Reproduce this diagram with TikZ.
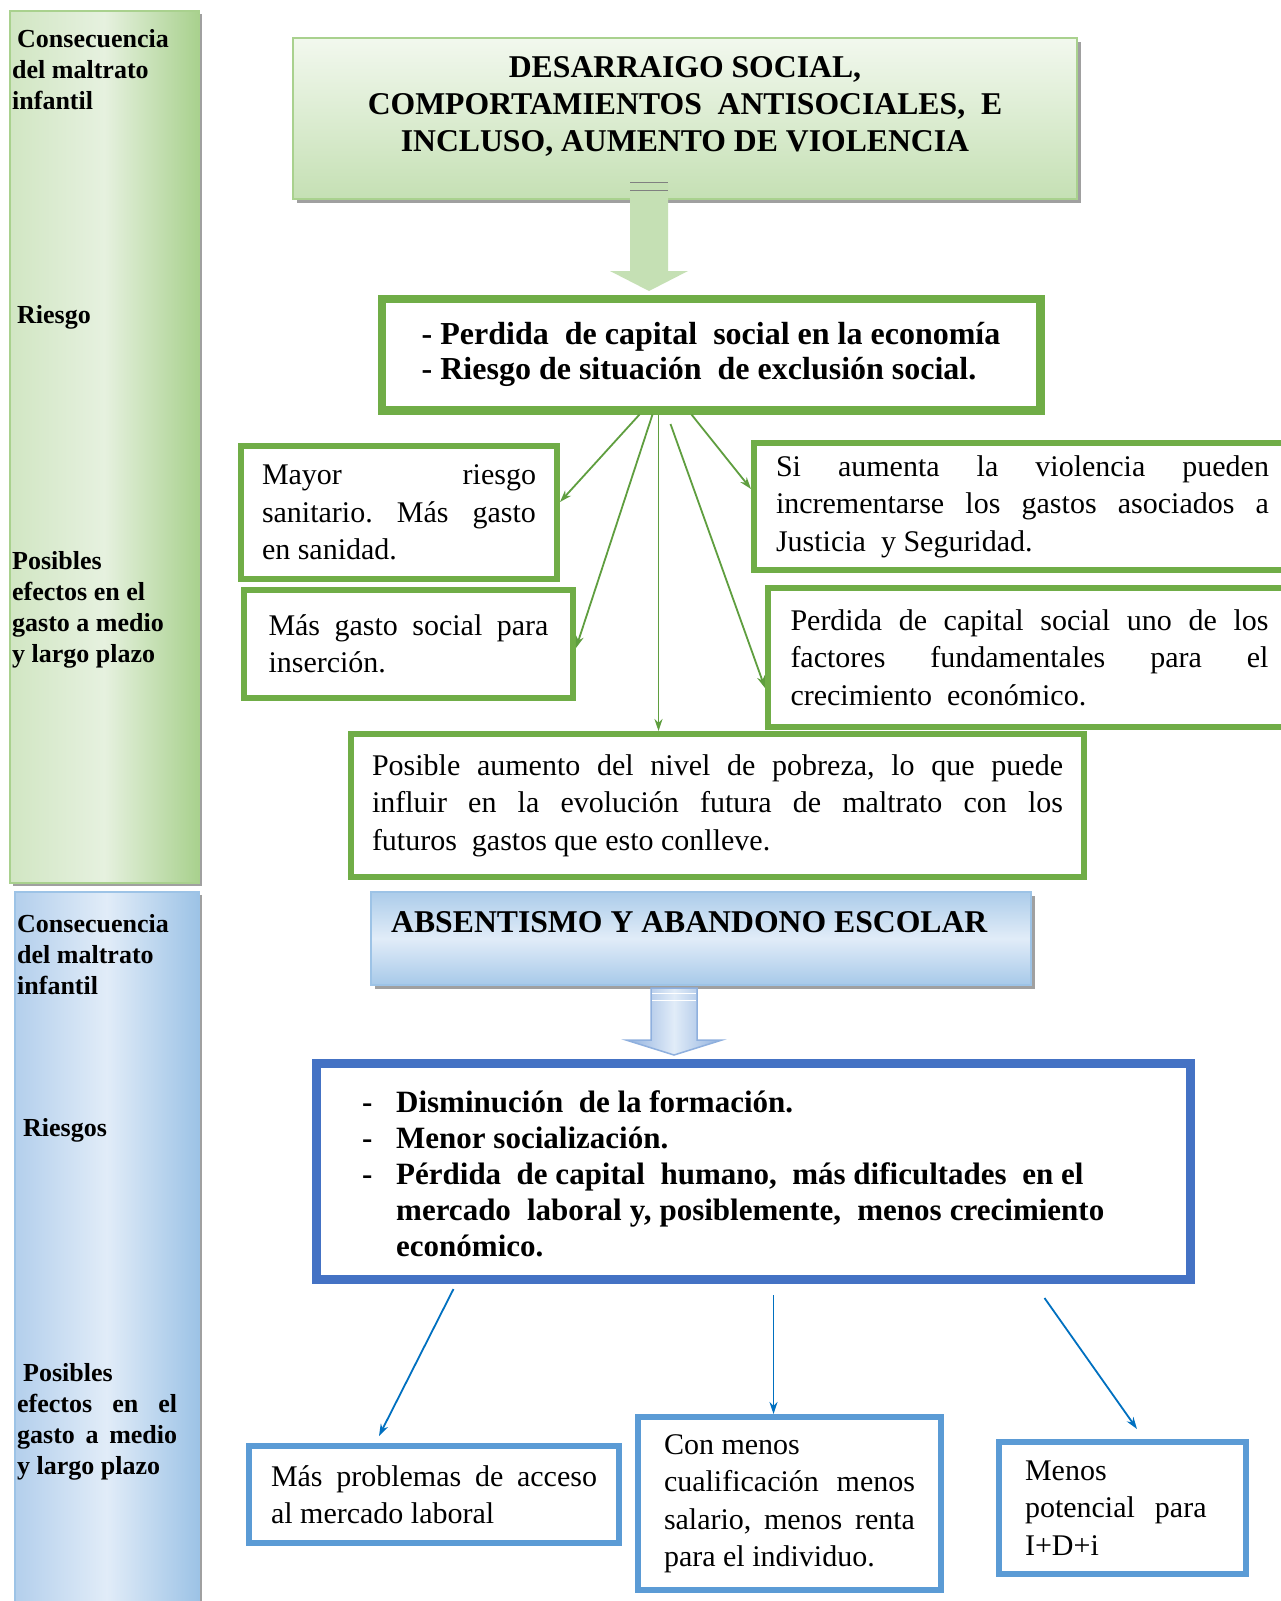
\documentclass[tikz,border=0pt]{standalone}
\usepackage{fontspec}
\setmainfont{Liberation Serif}
\usepackage{tikz}
\usetikzlibrary{arrows.meta,positioning,calc,shadows}
\definecolor{grnline}{HTML}{70AD47}
\definecolor{grnarrow}{HTML}{5F9E3F}
\definecolor{grnpale}{HTML}{E6F1DF}
\definecolor{grnside}{HTML}{D1E6C3}
\definecolor{grntop}{HTML}{F2F8EE}
\definecolor{grnsoft}{HTML}{C5E0B4}
\definecolor{grnedge}{HTML}{A9D18E}
\definecolor{bluline}{HTML}{4472C4}
\definecolor{bluframe}{HTML}{5B9BD5}
\definecolor{bluarrow}{HTML}{0070C0}
\definecolor{blupale}{HTML}{E1ECF8}
\definecolor{bluside}{HTML}{B3CFEC}
\definecolor{bluedge}{HTML}{9DC3E6}
\definecolor{blushaft}{HTML}{8FB0DE}
\definecolor{shadowgrey}{HTML}{A0A0A0}
\frenchspacing
\tolerance=10000
\hyphenpenalty=10000
\newcommand{\sidefont}{\fontsize{26}{31}\selectfont\bfseries}
\newcommand{\bodyfont}{\fontsize{30}{37.5}\selectfont}
\newcommand{\headfont}{\fontsize{31.7}{37}\selectfont\bfseries}
\newcommand{\riskfont}{\fontsize{32}{35}\selectfont\bfseries}
\newcommand{\listfont}{\fontsize{31}{36}\selectfont\bfseries\parindent=0pt}
\newcommand{\dashitem}[1]{\noindent\makebox[34pt][l]{-}\parbox[t]{708pt}{#1}\par}
\tikzset{
  % ---- side bars ------------------------------------------------------
  sidebar/.style={draw, line width=1.5pt, anchor=north west, inner sep=0pt,
    drop shadow={shadow xshift=3pt, shadow yshift=-3pt, fill=shadowgrey, opacity=1}},
  gsidebar/.style={sidebar, draw=grnedge, left color=grnside,
    right color=grnedge, middle color=grnpale},
  bsidebar/.style={sidebar, draw=bluedge, left color=bluside,
    right color=bluedge, middle color=blupale},
  sidelabel/.style={font=\sidefont, inner sep=0pt, anchor=north west, align=left},
  % ---- headline boxes -------------------------------------------------
  headbox/.style={draw, line width=2pt, anchor=north west, inner sep=0pt,
    drop shadow={shadow xshift=4pt, shadow yshift=-4pt, fill=shadowgrey, opacity=1}},
  gheadbox/.style={headbox, draw=grnedge, top color=grntop, bottom color=grnsoft},
  bheadbox/.style={headbox, draw=bluedge, top color=bluedge!85,
    bottom color=bluedge!90, middle color=blupale},
  headtext/.style={font=\headfont, inner sep=0pt, align=center},
  % ---- risk boxes (double frame) --------------------------------------
  dframe/.style={line width=7pt, anchor=north west, inner sep=0pt, fill=white},
  innerframe/.style={line width=2pt},
  listtext/.style={font=\listfont, inner sep=0pt, anchor=west,
    text width=742pt, align=justify},
  % ---- effect boxes ---------------------------------------------------
  effbox/.style={draw=grnline, line width=6pt, fill=white, anchor=north west,
    inner sep=0pt, align=justify, font=\bodyfont},
  beffbox/.style={effbox, draw=bluframe},
  % ---- connections ----------------------------------------------------
  garr/.style={-{Stealth[length=12pt,width=8pt]}, draw=grnarrow, line width=1.8pt},
  barr/.style={garr, draw=bluarrow},
  gblock/.style={fill=grnsoft},
  bblock/.style={draw=blushaft, line width=1.5pt, left color=blushaft,
    right color=blushaft, middle color=blupale},
  blockmark/.style={draw=#1, line width=1pt},
}
\begin{document}
\begin{tikzpicture}[x=1pt, y=-1pt]
\useasboundingbox (0,0) rectangle (1280,1601);
\fill[white] (0,0) rectangle (1280,1601);

% ---------------- side bars ------------------------------------------
\node[gsidebar, minimum width=189pt, minimum height=872pt] (gbar) at (9,10) {};
\node[bsidebar, minimum width=184pt, minimum height=720pt] (bbar) at (14,891) {};

\node[sidelabel] (gcons) at (12,29) {\hspace*{5pt}Consecuencia\\del maltrato\\infantil};
\node[sidelabel] (griesgo) at (17,305) {Riesgo};
\node[sidelabel] (gefect) at (12,551)
  {Posibles\\efectos en el\\gasto a medio\\y largo plazo};

\node[sidelabel] (bcons) at (17,914) {Consecuencia\\del maltrato\\infantil};
\node[sidelabel] (briesgo) at (23,1118) {Riesgos};
\node[sidelabel, text width=160pt, align=justify] (befect) at (17,1363)
  {\hspace*{6pt}Posibles\\efectos en el\linebreak gasto a medio\linebreak y largo plazo};

% ---------------- green part -----------------------------------------
\node[gheadbox, minimum width=784pt, minimum height=161pt] (desbox) at (292,37) {};
\node[headtext] (destext) at ([yshift=12pt]desbox.center)
  {DESARRAIGO SOCIAL,\\COMPORTAMIENTOS\ \ ANTISOCIALES,\ \ E\\INCLUSO, AUMENTO DE VIOLENCIA};

\node[dframe, draw=grnline, minimum width=660pt, minimum height=113pt,
      font=\riskfont, align=left] (riskbox) at (377.5,294.5)
  {- Perdida\ \ de capital\ \ social en la economía\\- Riesgo de situación\ \ de exclusión social.};
\draw[innerframe, draw=grnline] ([xshift=7.5pt,yshift=-7.5pt]riskbox.north west)
  rectangle ([xshift=-7.5pt,yshift=7.5pt]riskbox.south east);

\coordinate (gshaft) at (649,182);
\coordinate (gtip) at (gshaft |- riskbox.north);
\fill[gblock] ([xshift=-19pt]gshaft) -- ([xshift=19pt]gshaft)
  -- ([xshift=19pt,yshift=23.5pt]gtip) -- ([xshift=39pt,yshift=23.5pt]gtip)
  -- ([yshift=3.5pt]gtip) -- ([xshift=-39pt,yshift=23.5pt]gtip)
  -- ([xshift=-19pt,yshift=23.5pt]gtip) -- cycle;
\draw[blockmark=gray] ([xshift=-19pt]gshaft) -- ([xshift=19pt]gshaft);
\draw[blockmark=gray] ([xshift=-19pt,yshift=-8pt]gshaft) -- ([xshift=19pt,yshift=-8pt]gshaft);

\node[effbox, minimum width=316pt, minimum height=133pt, text width=274pt] (sanbox)
  at (238,443) {Mayor riesgo\linebreak sanitario. Más gasto\linebreak en sanidad.};
\node[effbox, minimum width=329pt, minimum height=108pt, text width=280pt,
      yshift=0pt] (insbox)
  at (241,587) {Más gasto social para\linebreak inserción.};
\node[effbox, minimum width=537pt, minimum height=127pt, text width=493pt] (jusbox)
  at (751,440) {Si aumenta la violencia pueden\linebreak incrementarse los gastos
  asociados a\linebreak Justicia\ \ y Seguridad.};
\node[effbox, minimum width=523pt, minimum height=139pt, text width=478pt] (crecbox)
  at (765,585) {Perdida de capital social uno de los\linebreak factores fundamentales
  para el\linebreak crecimiento\ \ económico.};
\node[effbox, minimum width=733pt, minimum height=143pt, text width=691pt] (pobbox)
  at (348,731) {Posible aumento del nivel de pobreza, lo que puede\linebreak influir
  en la evolución futura de maltrato con los\linebreak futuros\ \ gastos que esto conlleve.};

\draw[garr] ([xshift=-71.5pt]riskbox.south) -- ([yshift=10.5pt]sanbox.east);
\draw[garr] ([xshift=-58.5pt]riskbox.south) -- ([yshift=-4pt]insbox.east);
\draw[garr] ([xshift=-52.5pt]riskbox.south) -- ([xshift=-52.5pt]riskbox.south |- pobbox.north);
\draw[garr] ([xshift=-40.5pt,yshift=-9.5pt]riskbox.south) -- ([yshift=-30.5pt]crecbox.west);
\draw[garr] ([xshift=-19.5pt]riskbox.south) -- ([yshift=17.5pt]jusbox.west);

% ---------------- blue part ------------------------------------------
\node[bheadbox, minimum width=660pt, minimum height=93pt] (absbox) at (370,891) {};
\node[headtext, anchor=west] (abstext) at ([xshift=21pt,yshift=-31pt]absbox.north west)
  {ABSENTISMO Y ABANDONO ESCOLAR};

\node[dframe, draw=bluline, minimum width=876pt, minimum height=218pt] (formbox)
  at (311.5,1058.5) {};
\draw[innerframe, draw=bluline] ([xshift=8pt,yshift=-8pt]formbox.north west)
  rectangle ([xshift=-8pt,yshift=8pt]formbox.south east);
\node[listtext] (formtext) at ([xshift=50.5pt,yshift=-3pt]formbox.west)
  {\dashitem{Disminución\ \ de la formación.}
   \dashitem{Menor socialización.}
   \dashitem{Pérdida\ \ de capital\ \ humano,\ \ más dificultades\ \ en el\newline
   mercado\ \ laboral y, posiblemente,\ \ menos crecimiento\linebreak económico.}};

\coordinate (bshaft) at (674,988);
\coordinate (btip) at (bshaft |- formbox.north);
\shade[bblock] ([xshift=-23pt]bshaft) -- ([xshift=23pt]bshaft)
  -- ([xshift=23pt,yshift=18.5pt]btip) -- ([xshift=48pt,yshift=18.5pt]btip)
  -- ([yshift=3.5pt]btip) -- ([xshift=-48pt,yshift=18.5pt]btip)
  -- ([xshift=-23pt,yshift=18.5pt]btip) -- cycle;
\draw[blockmark=white] ([xshift=-22pt,yshift=-5pt]bshaft) -- ([xshift=22pt,yshift=-5pt]bshaft);
\draw[blockmark=white] ([xshift=-22pt,yshift=-12pt]bshaft) -- ([xshift=22pt,yshift=-12pt]bshaft);

\node[beffbox, minimum width=370pt, minimum height=97pt, text width=326pt] (labbox)
  at (246,1443) {Más problemas de acceso\linebreak al mercado laboral};
\node[beffbox, minimum width=303pt, minimum height=173pt, text width=251pt] (salbox)
  at (635,1414) {Con menos\newline cualificación menos\linebreak salario, menos
  renta\linebreak para el individuo.};
\node[beffbox, minimum width=247pt, minimum height=132pt, text width=195pt,
      align=left] (idibox) at (996,1439) {Menos\\potencial\ \ para\\I+D+i};

\draw[barr] ([xshift=-299.5pt,yshift=-5.5pt]formbox.south) -- ([xshift=-55pt,yshift=7pt]labbox.north);
\draw[barr] ([xshift=20.5pt,yshift=-11.5pt]formbox.south) -- ([xshift=20.5pt]formbox.south |- salbox.north);
\draw[barr] ([xshift=291.5pt,yshift=-14.5pt]formbox.south) -- ([xshift=14.5pt,yshift=10pt]idibox.north);

\end{tikzpicture}
\end{document}
